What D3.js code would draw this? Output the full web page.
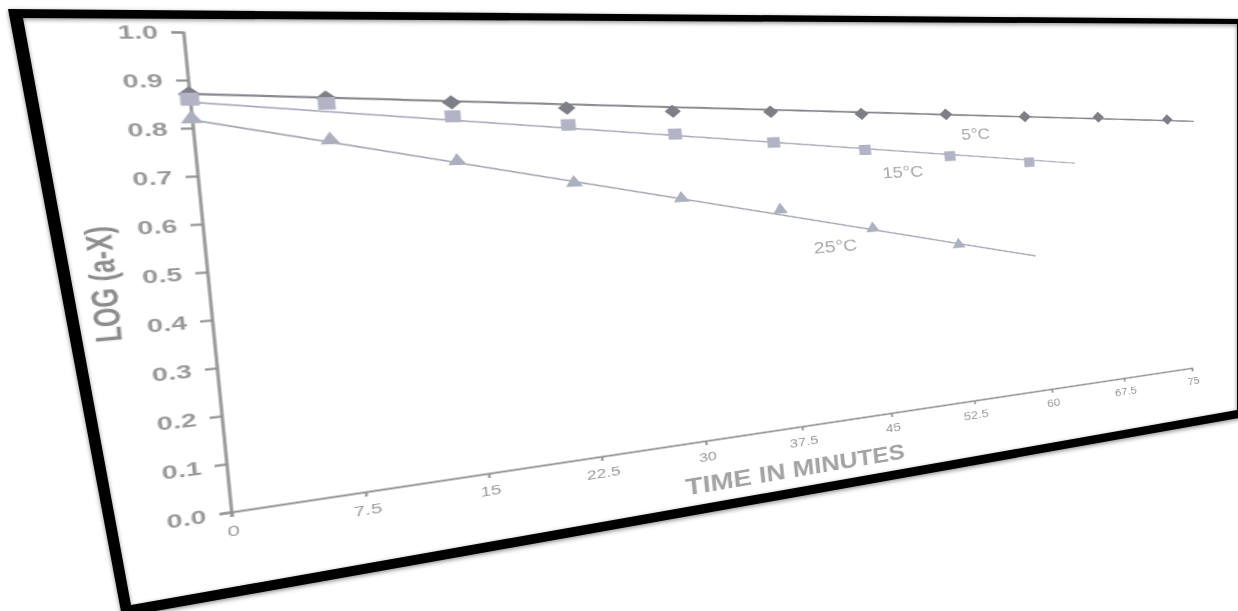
<!DOCTYPE html>
<html><head><meta charset="utf-8">
<script src="https://cdn.jsdelivr.net/npm/d3@7"></script>
<style>
html,body{margin:0;padding:0;background:#fff;overflow:hidden;}
#stage{position:relative;width:1238px;height:611px;overflow:hidden;background:#fff;}
#chart{position:absolute;left:0;top:0;transform-origin:0 0;overflow:visible;}
#frame{position:absolute;left:0;top:0;}
text{font-family:"Liberation Sans",Arial,sans-serif;}
</style></head><body>
<div id="stage"><svg id="chart" width="1200" height="640"></svg><svg id="frame" width="1238" height="611"></svg></div>
<script>
// ---------- data ----------
const seriesNames = ["5°C", "15°C", "25°C"];
const time5  = [0, 7.5, 15, 22.5, 30, 37.5, 45, 52.5, 60, 67.5, 75];
const log5   = [0.871, 0.859, 0.845, 0.827, 0.814, 0.808, 0.797, 0.790, 0.778, 0.771, 0.758];
const time15 = [0, 7.5, 15, 22.5, 30, 37.5, 45, 52.5, 60];
const log15  = [0.860, 0.847, 0.813, 0.787, 0.758, 0.729, 0.701, 0.675, 0.648];
const time25 = [0, 7.5, 15, 22.5, 30, 37.5, 45, 52.5];
const log25  = [0.819, 0.767, 0.711, 0.650, 0.599, 0.556, 0.492, 0.431];
// fitted lines drawn in the chart: [time, log] at start and end
const trend5  = [[0, 0.871], [78, 0.750]];
const trend15 = [[0, 0.854], [64.6, 0.639]];
const trend25 = [[0, 0.817], [59.7, 0.381]];
const xTicks = [0, 7.5, 15, 22.5, 30, 37.5, 45, 52.5, 60, 67.5, 75];
const yTicks = [0.0, 0.1, 0.2, 0.3, 0.4, 0.5, 0.6, 0.7, 0.8, 0.9, 1.0];
const xTitle = "TIME IN MINUTES";
const yTitle = "LOG (a-X)";

// ---------- layout ----------
const X0 = 100, Y0 = 540, PW = 970, PH = 480;
// where the plot corners land in the photographed (tilted) view
const flatCorners = [[X0, Y0], [X0 + PW, Y0], [X0, Y0 - PH], [X0 + PW, Y0 - PH]];
const viewCorners = [[231, 512], [1192, 368], [183, 32], [1159.3, 40.2]];
const labelAnchors = [[55.1, 0.735], [48.1, 0.638], [41.7, 0.453]];
const frameOuter = [[8, 9], [1250, 19], [1250, 416], [122, 617]];
const frameInner = [[23, 18], [1237, 24], [1237, 410], [131, 605]];

function solve(A, b) {
  const n = b.length;
  for (let i = 0; i < n; i++) {
    let p = i;
    for (let r = i + 1; r < n; r++) if (Math.abs(A[r][i]) > Math.abs(A[p][i])) p = r;
    [A[i], A[p]] = [A[p], A[i]]; [b[i], b[p]] = [b[p], b[i]];
    for (let r = i + 1; r < n; r++) {
      const f = A[r][i] / A[i][i];
      for (let c = i; c < n; c++) A[r][c] -= f * A[i][c];
      b[r] -= f * b[i];
    }
  }
  const x = new Array(n);
  for (let i = n - 1; i >= 0; i--) {
    let s = b[i];
    for (let c = i + 1; c < n; c++) s -= A[i][c] * x[c];
    x[i] = s / A[i][i];
  }
  return x;
}
function homography(src, dst) {
  const A = [], b = [];
  for (let i = 0; i < 4; i++) {
    const [x, y] = src[i], [X, Y] = dst[i];
    A.push([x, y, 1, 0, 0, 0, -x * X, -y * X]); b.push(X);
    A.push([0, 0, 0, x, y, 1, -x * Y, -y * Y]); b.push(Y);
  }
  return solve(A, b);
}
const h = homography(flatCorners, viewCorners);
const m3d = [h[0], h[3], 0, h[6], h[1], h[4], 0, h[7], 0, 0, 1, 0, h[2], h[5], 0, 1];
d3.select("#chart").style("transform", "matrix3d(" + m3d.join(",") + ")");

const svg = d3.select("#chart");
const x = d3.scaleLinear().domain([0, 75]).range([X0, X0 + PW]);
const y = d3.scaleLinear().domain([0, 1]).range([Y0, Y0 - PH]);

const axisColor = "#929292";
// y axis
const gy = svg.append("g").attr("transform", `translate(${X0},0)`)
  .call(d3.axisLeft(y).tickValues(yTicks).tickFormat(d3.format(".1f")).tickSize(8).tickSizeOuter(8).tickPadding(9));
gy.selectAll("path,line").attr("stroke", axisColor).attr("stroke-width", 2.2);
gy.selectAll("text").attr("fill", "#999999").attr("font-size", 19).attr("font-weight", "bold");

// x axis
const gx = svg.append("g").attr("transform", `translate(0,${Y0})`)
  .call(d3.axisBottom(x).tickValues(xTicks).tickFormat(d => String(d)).tickSize(5).tickSizeOuter(5).tickPadding(8));
gx.selectAll("path,line").attr("stroke", axisColor).attr("stroke-width", 2);
gx.selectAll("text").attr("fill", "#9a9a9a").attr("font-size", 15.5);

// titles
svg.append("text").attr("transform", `translate(${X0 - 69},${y(0.49)}) rotate(-90)`)
  .attr("text-anchor", "middle").attr("dy", "0.35em")
  .attr("font-size", 24).attr("font-weight", "bold").attr("fill", "#8c8c8c").text(yTitle);
svg.append("text").attr("x", x(37)).attr("y", Y0 + 51).attr("dy", "0.35em")
  .attr("text-anchor", "middle").attr("font-size", 27).attr("font-weight", "bold")
  .attr("fill", "#a3a3a3").text(xTitle);

// trend lines
const line = d3.line().x(d => x(d[0])).y(d => y(d[1]));
const lineColors = ["#86868c", "#a9abbd", "#a3a6b0"];
const lineWidths = [2.2, 1.7, 1.7];
[trend5, trend15, trend25].forEach((t, i) => {
  svg.append("path").attr("d", line(t)).attr("fill", "none")
    .attr("stroke", lineColors[i]).attr("stroke-width", lineWidths[i]);
});

// markers
const series = [
  {t: time5, v: log5, sym: d3.symbol(d3.symbolSquare, 120), rot: 45, color: "#7e7e86"},
  {t: time15, v: log15, sym: d3.symbol(d3.symbolSquare, 170), rot: 0, color: "#b2b4c6"},
  {t: time25, v: log25, sym: d3.symbol(d3.symbolTriangle, 100), rot: 0, color: "#acafbd"}
];
series.forEach(s => {
  svg.append("g").selectAll("path").data(s.t.map((t, i) => [t, s.v[i]])).join("path")
    .attr("d", s.sym)
    .attr("transform", d => `translate(${x(d[0])},${y(d[1])}) rotate(${s.rot})`)
    .attr("fill", s.color);
});

// series labels
svg.append("g").selectAll("text").data(seriesNames).join("text")
  .attr("x", (d, i) => x(labelAnchors[i][0])).attr("y", (d, i) => y(labelAnchors[i][1]))
  .attr("dy", "0.35em").attr("text-anchor", "middle")
  .attr("font-size", 21).attr("fill", "#a8a8a8").text(d => d);

// photo frame
const fr = d3.select("#frame");
const defs = fr.append("defs");
const f = defs.append("filter").attr("id", "sh").attr("x", "-5%").attr("y", "-5%").attr("width", "110%").attr("height", "110%");
f.append("feDropShadow").attr("dx", 0).attr("dy", 1.5).attr("stdDeviation", 2.2)
  .attr("flood-color", "#000").attr("flood-opacity", 0.45);
const poly = d3.line().curve(d3.curveLinearClosed);
fr.append("path").attr("d", poly(frameOuter) + poly(frameInner))
  .attr("fill", "#060606").attr("fill-rule", "evenodd").attr("filter", "url(#sh)");
</script>
</body></html>
